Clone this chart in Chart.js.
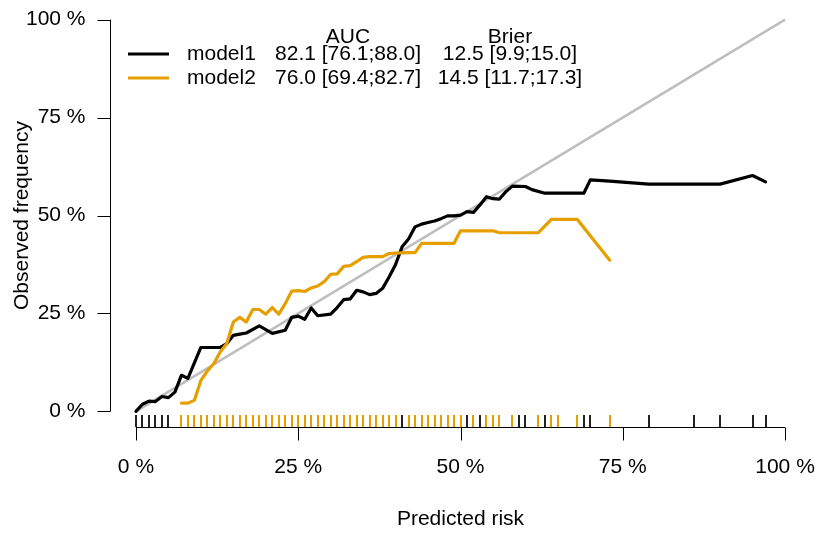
<!DOCTYPE html>
<html>
<head>
<meta charset="utf-8">
<script src="https://cdn.jsdelivr.net/npm/chart.js@4"></script>
<style>
body { margin: 0; background: #fff; }
</style>
</head>
<body>
<canvas id="calPlot" width="817" height="536"></canvas>
<script>
// calibration curves: predicted risk (%) vs observed frequency (%)
let model1Risk = [0, 1, 2, 3, 4, 5, 6, 7, 8, 10, 13, 14, 15, 16, 17, 19, 21, 23, 24, 25, 26, 27, 28, 30, 31, 32, 33, 34, 35, 36, 37, 38, 39, 40, 41, 42, 43, 44, 45, 46, 47, 48, 49, 50, 51, 52, 53, 54, 55, 56, 57, 58, 60, 61, 63, 69, 70, 73, 79, 90, 95, 97];
let model1Obs = [0, 1.8, 2.6, 2.5, 3.8, 3.5, 4.9, 9.2, 8.4, 16.3, 16.3, 17.3, 19.4, 19.7, 20.0, 21.8, 19.9, 20.7, 24.0, 24.3, 23.5, 26.4, 24.4, 24.8, 26.5, 28.5, 28.7, 30.9, 30.5, 29.8, 30.1, 31.4, 34.3, 37.5, 42.0, 44.0, 47.1, 47.8, 48.2, 48.6, 49.2, 49.9, 49.9, 50.1, 51.0, 50.8, 52.7, 54.8, 54.3, 54.2, 56.1, 57.5, 57.4, 56.6, 55.7, 55.7, 59.1, 58.8, 58.0, 58.0, 60.2, 58.6];
let model2Risk = [7, 8, 9, 10, 11, 12, 13, 14, 15, 16, 17, 18, 19, 20, 21, 22, 23, 24, 25, 26, 27, 28, 29, 30, 31, 32, 33, 34, 35, 36, 37, 38, 39, 40, 42, 43, 44, 45, 46, 47, 48, 49, 50, 52, 54, 55, 56, 58, 62, 64, 65, 68, 73];
let model2Obs = [2.1, 2.1, 2.8, 7.9, 10.3, 12.2, 15.2, 17.3, 22.8, 24.0, 22.8, 26.0, 26.0, 24.8, 26.5, 24.8, 27.5, 30.7, 30.8, 30.6, 31.5, 32.0, 33.1, 35.0, 35.1, 37.0, 37.2, 38.2, 39.3, 39.5, 39.5, 39.5, 40.3, 40.4, 40.5, 40.5, 42.9, 42.9, 42.9, 42.9, 42.9, 42.9, 46.1, 46.1, 46.1, 46.1, 45.6, 45.6, 45.6, 49.0, 49.0, 49.0, 38.6];

// rug: predicted risks of the subjects (%)
let model1Rug = [0, 1, 2, 3, 4, 5, 10, 14, 18, 22, 26, 30, 34, 38, 41, 44, 48, 51, 53, 59, 60, 63, 69, 70, 79, 86, 90, 95, 97];
let model2Rug = [7, 8, 9, 10, 11, 12, 13, 14, 15, 16, 17, 18, 19, 20, 21, 22, 23, 24, 25, 26, 27, 28, 29, 30, 31, 32, 33, 34, 35, 36, 37, 38, 39, 40, 42, 43, 44, 45, 46, 47, 48, 49, 50, 52, 54, 55, 56, 58, 62, 64, 65, 68, 73];

let diagX = [0, 100];
let axisTicks = [0, 25, 50, 75, 100];
let tickLabels = ['0 %', '25 %', '50 %', '75 %', '100 %'];

let modelNames = ['model1', 'model2'];
let aucText = ['82.1 [76.1;88.0]', '76.0 [69.4;82.7]'];
let brierText = ['12.5 [9.9;15.0]', '14.5 [11.7;17.3]'];
let modelColors = ['#000000', '#E69F00'];

const FONT = '21px "Liberation Sans", Arial, sans-serif';

function pts(xs, ys) {
    return xs.map((x, i) => ({ x: x, y: ys[i] }));
}

// rug ticks along the bottom, standing on the x axis line
const rugPlugin = {
    id: 'rug',
    beforeDatasetsDraw(chart) {
        const ctx = chart.ctx;
        const xs = chart.scales.x, ys = chart.scales.y;
        const yb = Math.round(ys.getPixelForValue(ys.min));
        ctx.save();
        ctx.lineWidth = 2;
        [[model1Rug, '#222'], [model2Rug, modelColors[1]]].forEach(([vals, col]) => {
            ctx.strokeStyle = col;
            ctx.beginPath();
            vals.forEach(v => {
                let px = Math.round(xs.getPixelForValue(v));
                ctx.moveTo(px, yb);
                ctx.lineTo(px, yb - 12);
            });
            ctx.stroke();
        });
        ctx.restore();
    }
};

// R style axes, titles and the AUC/Brier legend table
const rAxes = {
    id: 'rAxes',
    afterDraw(chart) {
        const ctx = chart.ctx;
        const xs = chart.scales.x, ys = chart.scales.y;
        const yb = Math.round(ys.getPixelForValue(ys.min)) + 0.5;
        const xl = Math.round(xs.getPixelForValue(xs.min)) + 0.5;
        ctx.save();
        ctx.strokeStyle = '#000';
        ctx.fillStyle = '#000';
        ctx.lineWidth = 1;
        ctx.font = FONT;

        // x axis
        ctx.beginPath();
        ctx.moveTo(xs.getPixelForValue(axisTicks[0]), yb);
        ctx.lineTo(xs.getPixelForValue(axisTicks[axisTicks.length - 1]), yb);
        axisTicks.forEach(t => {
            let px = Math.round(xs.getPixelForValue(t)) + 0.5;
            ctx.moveTo(px, yb);
            ctx.lineTo(px, yb + 13);
        });
        // y axis
        ctx.moveTo(xl, ys.getPixelForValue(axisTicks[0]));
        ctx.lineTo(xl, ys.getPixelForValue(axisTicks[axisTicks.length - 1]));
        axisTicks.forEach(t => {
            let py = Math.round(ys.getPixelForValue(t)) + 0.5;
            ctx.moveTo(xl, py);
            ctx.lineTo(xl - 13, py);
        });
        ctx.stroke();

        ctx.textBaseline = 'middle';
        ctx.textAlign = 'center';
        tickLabels.forEach((l, i) => ctx.fillText(l, xs.getPixelForValue(axisTicks[i]), yb + 40));
        ctx.textAlign = 'right';
        tickLabels.forEach((l, i) => ctx.fillText(l, xl - 25, ys.getPixelForValue(axisTicks[i])));

        // axis titles
        const area = chart.chartArea;
        ctx.textAlign = 'center';
        ctx.fillText('Predicted risk', (area.left + area.right) / 2, 519);
        ctx.save();
        ctx.translate(22, (area.top + area.bottom) / 2);
        ctx.rotate(-Math.PI / 2);
        ctx.fillText('Observed frequency', 0, 0);
        ctx.restore();

        // legend table
        ctx.fillText('AUC', 348, 37);
        ctx.fillText('Brier', 510, 37);
        modelNames.forEach((name, i) => {
            let ry = 54 + i * 24;
            ctx.strokeStyle = modelColors[i];
            ctx.lineWidth = 3;
            ctx.beginPath();
            ctx.moveTo(128, ry);
            ctx.lineTo(169, ry);
            ctx.stroke();
            ctx.textAlign = 'left';
            ctx.fillText(name, 187, ry);
            ctx.textAlign = 'center';
            ctx.fillText(aucText[i], 348, ry);
            ctx.fillText(brierText[i], 510, ry);
        });
        ctx.restore();
    }
};

const ctxCal = document.getElementById('calPlot').getContext('2d');
const calChart = new Chart(ctxCal, {
    type: 'scatter',
    data: {
        datasets: [{
            label: modelNames[1],
            data: pts(model2Risk, model2Obs),
            showLine: true,
            borderColor: modelColors[1],
            borderWidth: 3.2,
            borderJoinStyle: 'round',
            borderCapStyle: 'round',
            pointRadius: 0,
            order: 1
        }, {
            label: modelNames[0],
            data: pts(model1Risk, model1Obs),
            showLine: true,
            borderColor: modelColors[0],
            borderWidth: 3.2,
            borderJoinStyle: 'round',
            borderCapStyle: 'round',
            pointRadius: 0,
            order: 2
        }, {
            label: 'diagonal',
            data: pts(diagX, diagX),
            showLine: true,
            borderColor: '#BEBEBE',
            borderWidth: 2.5,
            pointRadius: 0,
            order: 3
        }]
    },
    options: {
        responsive: false,
        animation: false,
        events: [],
        layout: { padding: { left: 110, right: 6, top: 4, bottom: 109 } },
        plugins: {
            legend: { display: false },
            tooltip: { enabled: false }
        },
        scales: {
            x: { type: 'linear', min: -4, max: 104, display: false },
            y: { type: 'linear', min: -4, max: 104, display: false }
        }
    },
    plugins: [rugPlugin, rAxes]
});
</script>
</body>
</html>
